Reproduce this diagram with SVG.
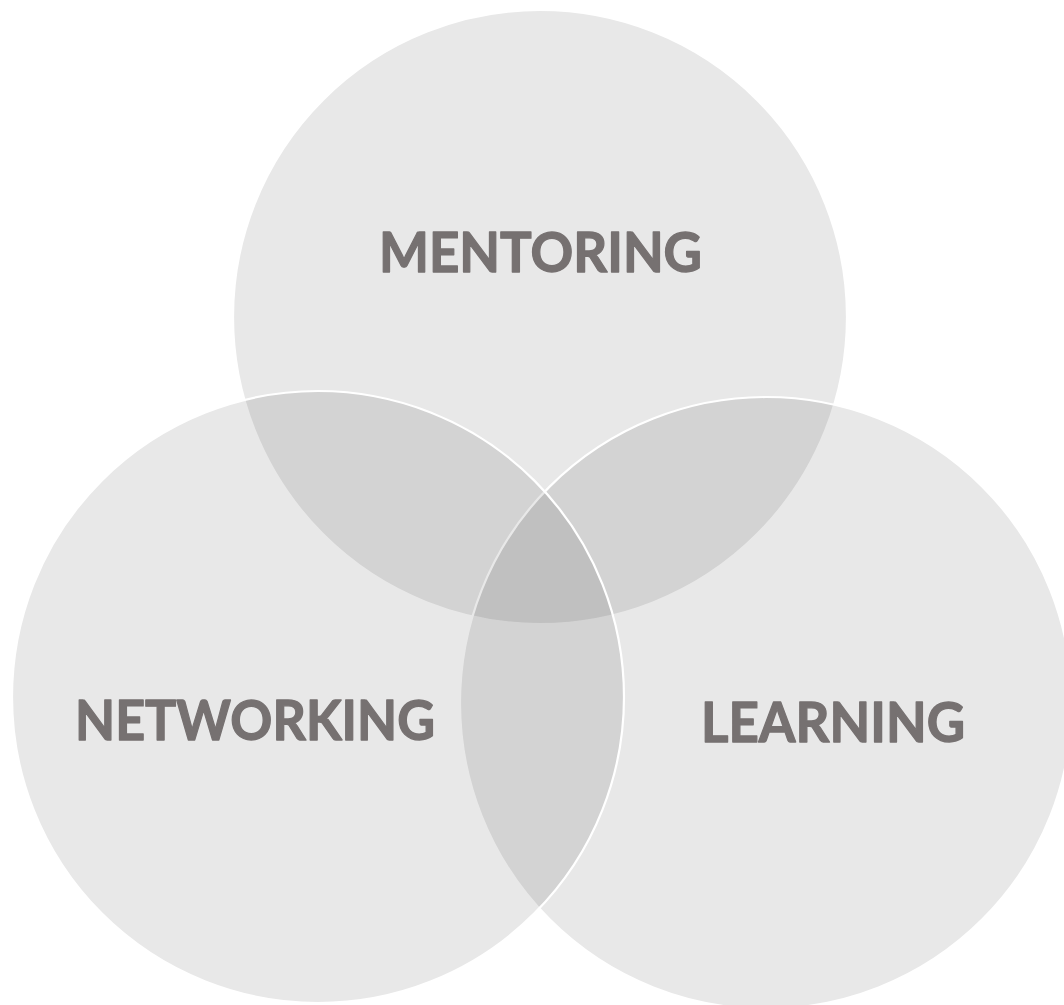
<svg xmlns="http://www.w3.org/2000/svg" width="1064" height="1005" viewBox="0 0 1064 1005">
<style>
.fill{fill:#e8e8e8;stroke:none;mix-blend-mode:multiply}
.edge{fill:none;stroke:#ffffff;stroke-width:2.2}
.lbl{font-family:Lato,"Liberation Sans",sans-serif;font-weight:700;font-size:56px;fill:#767171;stroke:#767171;stroke-width:1.3;stroke-linejoin:round}
</style>
<rect width="1064" height="1005" fill="#ffffff"/>
<g id="mentoring">
<circle class="fill" cx="540" cy="317" r="307"/>
<circle class="edge" cx="540" cy="317" r="307"/>
<text class="lbl" x="379" y="272" textLength="323" lengthAdjust="spacingAndGlyphs">MENTORING</text>
</g>
<g id="learning">
<circle class="fill" cx="766" cy="703" r="306"/>
<circle class="edge" cx="766" cy="703" r="306"/>
</g>
<g id="networking">
<circle class="fill" cx="318" cy="697" r="306"/>
<circle class="edge" cx="318" cy="697" r="306"/>
</g>
<g id="labels">
<text class="lbl" x="75" y="740" textLength="360" lengthAdjust="spacingAndGlyphs">NETWORKING</text>
<text class="lbl" x="701" y="742" textLength="264" lengthAdjust="spacingAndGlyphs">LEARNING</text>
</g>
<g id="connectors"></g>
</svg>
